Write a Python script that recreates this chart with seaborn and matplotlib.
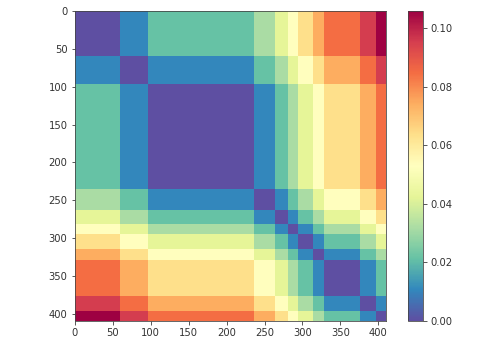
import numpy as np
import matplotlib
matplotlib.use("Agg")
import matplotlib.pyplot as plt
import seaborn as sns

# block sizes along both axes (rows/cols of the distance matrix)
block_sizes = [60, 37, 139, 28, 18, 13, 20, 14, 48, 20, 13]

block_levels = [
    [0, 1, 2, 3, 4, 5, 6, 7, 8, 9, 10],
    [1, 0, 1, 2, 3, 4, 5, 6, 7, 8, 9],
    [2, 1, 0, 1, 2, 3, 4, 5, 6, 7, 8],
    [3, 2, 1, 0, 1, 2, 3, 4, 5, 6, 7],
    [4, 3, 2, 1, 0, 1, 2, 3, 4, 5, 6],
    [5, 4, 3, 2, 1, 0, 1, 2, 3, 4, 5],
    [6, 5, 4, 3, 2, 1, 0, 1, 2, 3, 4],
    [7, 6, 5, 4, 3, 2, 1, 0, 1, 2, 3],
    [8, 7, 6, 5, 4, 3, 2, 1, 0, 1, 2],
    [9, 8, 7, 6, 5, 4, 3, 2, 1, 0, 1],
    [10, 9, 8, 7, 6, 5, 4, 3, 2, 1, 0],
]
step = 0.0106

tick_vals = [0, 50, 100, 150, 200, 250, 300, 350, 400]
cbar_ticks = [0.00, 0.02, 0.04, 0.06, 0.08, 0.10]

# expand block matrix to full matrix
mat = np.array(block_levels, dtype=float) * step
mat = np.repeat(np.repeat(mat, block_sizes, axis=0), block_sizes, axis=1)

fig = plt.figure(figsize=(500 / 72, 344 / 72), dpi=72)
ax = fig.add_axes([0.149, 0.067, 0.622, 0.902])
cax = fig.add_axes([0.815, 0.067, 0.031, 0.902])

sns.heatmap(mat, cmap="Spectral_r", vmin=0, vmax=mat.max(), ax=ax, cbar_ax=cax,
            xticklabels=False, yticklabels=False, rasterized=True)

ax.set_xticks(np.array(tick_vals) + 0.5)
ax.set_xticklabels([str(t) for t in tick_vals])
ax.set_yticks(np.array(tick_vals) + 0.5)
ax.set_yticklabels([str(t) for t in tick_vals], rotation=0)
ax.tick_params(length=3.5, width=0.8, labelsize=10, colors="#333333")
for s in ax.spines.values():
    s.set_visible(True)
    s.set_linewidth(0.8)
    s.set_color("#444444")

cbar = ax.collections[0].colorbar
cbar.set_ticks(cbar_ticks)
cbar.set_ticklabels(["%.2f" % t for t in cbar_ticks])
cbar.ax.tick_params(length=3.5, width=0.8, labelsize=10, colors="#333333")
cbar.outline.set_visible(True)
cbar.outline.set_linewidth(0.8)
cbar.outline.set_edgecolor("#444444")

fig.savefig("out.png", dpi=72)
